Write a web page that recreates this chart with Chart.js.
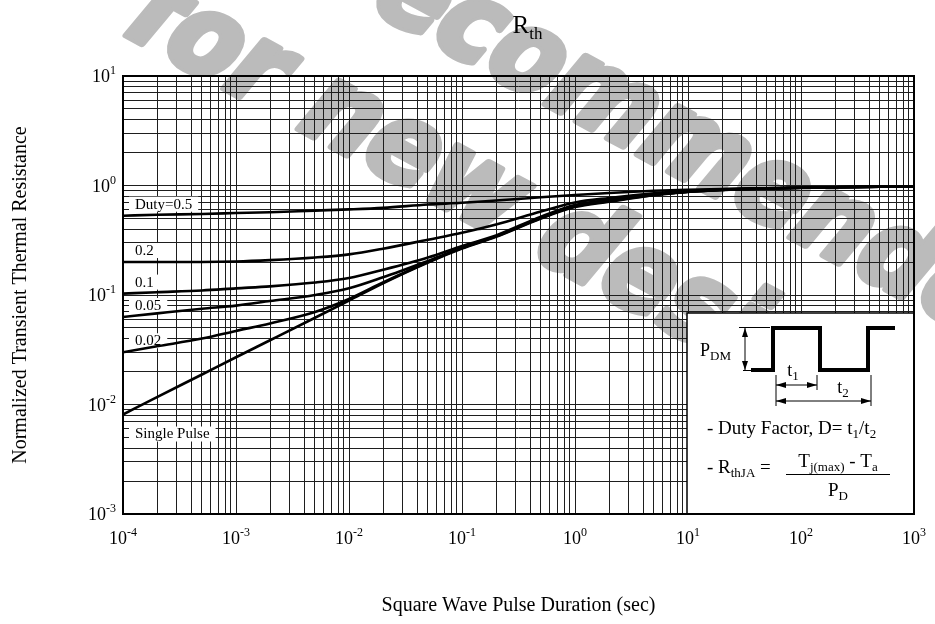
<!DOCTYPE html>
<html>
<head>
<meta charset="utf-8">
<script src="https://cdn.jsdelivr.net/npm/chart.js@4.4.1/dist/chart.umd.min.js"></script>
<style>
  html, body { margin: 0; padding: 0; background: #fff; }
  #wrap { width: 935px; height: 624px; position: relative; }
</style>
</head>
<body>
<div id="wrap"><canvas id="c" width="935" height="624"></canvas></div>
<script>
// Pulse durations (s) at which the curves are sampled
const pulseDuration = [1e-4, 2e-4, 5e-4, 1e-3, 2e-3, 5e-3, 1e-2, 2e-2, 5e-2, 0.1, 0.2, 0.5, 1, 2, 5, 10, 20, 50, 100, 200, 500, 1000];

// Normalized transient thermal resistance for each duty factor
const duty050 = [0.53, 0.54, 0.55, 0.56, 0.57, 0.59, 0.605, 0.625, 0.67, 0.695, 0.73, 0.78, 0.82, 0.855, 0.895, 0.915, 0.93, 0.945, 0.955, 0.965, 0.975, 0.98];
const duty020 = [0.2, 0.2, 0.2, 0.202, 0.208, 0.22, 0.235, 0.265, 0.32, 0.37, 0.44, 0.58, 0.70, 0.77, 0.85, 0.895, 0.925, 0.945, 0.955, 0.965, 0.975, 0.98];
const duty010 = [0.103, 0.106, 0.11, 0.115, 0.12, 0.13, 0.143, 0.17, 0.22, 0.28, 0.35, 0.52, 0.665, 0.74, 0.83, 0.88, 0.915, 0.94, 0.955, 0.965, 0.975, 0.98];
const duty005 = [0.063, 0.068, 0.075, 0.08, 0.088, 0.1, 0.115, 0.145, 0.205, 0.27, 0.345, 0.51, 0.655, 0.73, 0.825, 0.878, 0.913, 0.94, 0.955, 0.965, 0.975, 0.98];
const duty002 = [0.03, 0.034, 0.04, 0.047, 0.055, 0.07, 0.092, 0.13, 0.2, 0.268, 0.343, 0.505, 0.645, 0.72, 0.82, 0.876, 0.912, 0.94, 0.955, 0.965, 0.975, 0.98];
const singlePulse = [0.0081, 0.0117, 0.0188, 0.027, 0.0386, 0.062, 0.089, 0.128, 0.198, 0.265, 0.34, 0.50, 0.635, 0.71, 0.815, 0.875, 0.91, 0.94, 0.955, 0.965, 0.975, 0.98];

const curveLabels = ['Duty=0.5', '0.2', '0.1', '0.05', '0.02', 'Single Pulse'];
const curveSeries = [duty050, duty020, duty010, duty005, duty002, singlePulse];

// Decade exponents used for tick labels
const xDecades = [-4, -3, -2, -1, 0, 1, 2, 3];
const yDecades = [-3, -2, -1, 0, 1];

const SERIF = "'Liberation Serif', 'Times New Roman', serif";
const WM_FONT = "bold 112px 'DejaVu Sans Condensed', 'DejaVu Sans', sans-serif";

function logTicks(minExp, maxExp) {
  const t = [];
  for (let e = minExp; e < maxExp; e++) {
    for (let m = 1; m <= 9; m++) t.push({ value: m * Math.pow(10, e) });
  }
  t.push({ value: Math.pow(10, maxExp) });
  return t;
}

function richWidth(ctx, parts) {
  let w = 0;
  for (const p of parts) { ctx.font = p.font; w += ctx.measureText(p.t).width; }
  return w;
}
function drawRich(ctx, parts, x, y, align) {
  const w = richWidth(ctx, parts);
  let cx = align === 'center' ? x - w / 2 : (align === 'right' ? x - w : x);
  ctx.textAlign = 'left';
  ctx.textBaseline = 'alphabetic';
  for (const p of parts) {
    ctx.font = p.font;
    ctx.fillText(p.t, cx, y + (p.dy || 0));
    cx += ctx.measureText(p.t).width;
  }
  return w;
}
const f = (px) => px + 'px ' + SERIF;

// Background + diagonal watermark, painted under the grid
const backdrop = {
  id: 'backdrop',
  beforeDraw(chart) {
    const ctx = chart.ctx;
    ctx.save();
    ctx.fillStyle = '#fff';
    ctx.fillRect(0, 0, chart.width, chart.height);
    ctx.fillStyle = '#bbbbbb';
    ctx.strokeStyle = '#bbbbbb';
    ctx.lineWidth = 7;
    ctx.lineJoin = 'round';
    ctx.font = WM_FONT;
    ctx.textAlign = 'left';
    ctx.textBaseline = 'middle';
    const angle = 28.5 * Math.PI / 180;
    // each line is placed by the centre of one of its letters
    const lines = [
      { t: 'Not recommended', idx: 6, x: 470, y: 30 },
      { t: 'for new design', idx: 1, x: 205, y: 45 }
    ];
    for (const l of lines) {
      const off = ctx.measureText(l.t.slice(0, l.idx)).width + ctx.measureText(l.t[l.idx]).width / 2;
      ctx.save();
      ctx.translate(l.x, l.y);
      ctx.rotate(angle);
      ctx.transform(1, 0, -0.2, 1, 0, 0);
      ctx.strokeText(l.t, -off, 0);
      ctx.fillText(l.t, -off, 0);
      ctx.restore();
    }
    ctx.restore();
  }
};

// White patches behind the curve labels (under the curves, over the grid)
const labelPatches = {
  id: 'labelPatches',
  beforeDatasetsDraw(chart) {
    const ctx = chart.ctx;
    const area = chart.chartArea;
    const ys = chart.scales.y;
    ctx.save();
    curveSeries.forEach((s, i) => {
      const yCurve = ys.getPixelForValue(s[0]);
      const yc = i === 5 ? yCurve + 19 : yCurve - 12;
      const x0 = area.left + 12;
      ctx.font = f(15);
      const w = ctx.measureText(curveLabels[i]).width;
      ctx.fillStyle = '#fff';
      ctx.fillRect(x0 - 6, yc - 7, w + 12, 15);
      ctx.fillStyle = '#000';
      ctx.textAlign = 'left';
      ctx.textBaseline = 'middle';
      ctx.fillText(curveLabels[i], x0, yc + 1);
    });
    ctx.restore();
  }
};

// Frame, axis text and the duty-factor inset
const annotations = {
  id: 'annotations',
  afterDraw(chart) {
    const ctx = chart.ctx;
    const area = chart.chartArea;
    const xs = chart.scales.x, ys = chart.scales.y;
    ctx.save();

    // inset box
    const bx = area.right - 227, by = area.top + 237, bw = 227, bh = area.bottom - by;
    ctx.fillStyle = '#fff';
    ctx.fillRect(bx, by, bw, bh);
    ctx.strokeStyle = '#000';
    ctx.lineWidth = 1.5;
    ctx.strokeRect(bx, by, bw, bh);

    // square wave
    const hi = by + 15, lo = by + 57;
    const e1 = bx + 86, e2 = bx + 133, e3 = bx + 181;
    ctx.lineWidth = 4;
    ctx.lineJoin = 'miter';
    ctx.beginPath();
    ctx.moveTo(bx + 64, lo);
    ctx.lineTo(e1, lo); ctx.lineTo(e1, hi); ctx.lineTo(e2, hi); ctx.lineTo(e2, lo);
    ctx.lineTo(e3, lo); ctx.lineTo(e3, hi); ctx.lineTo(bx + 208, hi);
    ctx.stroke();

    // P_DM dimension
    ctx.lineWidth = 1;
    const ax = bx + 58;
    ctx.beginPath();
    ctx.moveTo(bx + 52, hi - 0.5); ctx.lineTo(bx + 83, hi - 0.5);
    ctx.moveTo(bx + 56, lo + 0.5); ctx.lineTo(bx + 64, lo + 0.5);
    ctx.moveTo(ax, hi); ctx.lineTo(ax, lo);
    ctx.stroke();
    const arrowV = (x, y, dir) => {
      ctx.beginPath(); ctx.moveTo(x, y); ctx.lineTo(x - 3, y + dir * 9); ctx.lineTo(x + 3, y + dir * 9); ctx.closePath(); ctx.fill();
    };
    const arrowH = (x, y, dir) => {
      ctx.beginPath(); ctx.moveTo(x, y); ctx.lineTo(x + dir * 10, y - 3); ctx.lineTo(x + dir * 10, y + 3); ctx.closePath(); ctx.fill();
    };
    ctx.fillStyle = '#000';
    arrowV(ax, hi, 1); arrowV(ax, lo, -1);

    // t1 / t2 dimensions
    const t1y = by + 72, t2y = by + 88;
    const xa = e1 + 3, xb = e2 - 3, xc = e3 + 3;
    ctx.beginPath();
    ctx.moveTo(xa, lo + 5); ctx.lineTo(xa, t2y + 5);
    ctx.moveTo(xb, lo + 5); ctx.lineTo(xb, t1y + 5);
    ctx.moveTo(xc, lo + 5); ctx.lineTo(xc, t2y + 5);
    ctx.moveTo(xa, t1y); ctx.lineTo(xb, t1y);
    ctx.moveTo(xa, t2y); ctx.lineTo(xc, t2y);
    ctx.stroke();
    arrowH(xa, t1y, 1); arrowH(xb, t1y, -1);
    arrowH(xa, t2y, 1); arrowH(xc, t2y, -1);

    ctx.fillStyle = '#000';
    drawRich(ctx, [{ t: 'P', font: f(18) }, { t: 'DM', font: f(13), dy: 4 }], bx + 13, by + 43, 'left');
    drawRich(ctx, [{ t: 't', font: f(18) }, { t: '1', font: f(13), dy: 4 }], bx + 106, by + 63, 'center');
    drawRich(ctx, [{ t: 't', font: f(18) }, { t: '2', font: f(13), dy: 4 }], bx + 156, by + 80, 'center');

    drawRich(ctx, [
      { t: '- Duty Factor, D= t', font: f(19) }, { t: '1', font: f(13), dy: 4 },
      { t: '/t', font: f(19) }, { t: '2', font: f(13), dy: 4 }
    ], bx + 20, by + 121, 'left');

    drawRich(ctx, [{ t: '- R', font: f(19) }, { t: 'thJA', font: f(13), dy: 4 }, { t: ' =', font: f(19) }], bx + 20, by + 160, 'left');
    const fx0 = bx + 99, fx1 = bx + 203, fcx = (fx0 + fx1) / 2, fy = by + 161;
    ctx.lineWidth = 1;
    ctx.beginPath(); ctx.moveTo(fx0, fy + 0.5); ctx.lineTo(fx1, fy + 0.5); ctx.stroke();
    drawRich(ctx, [
      { t: 'T', font: f(19) }, { t: 'j(max)', font: f(13), dy: 4 },
      { t: ' - T', font: f(19) }, { t: 'a', font: f(13), dy: 4 }
    ], fcx, fy - 7, 'center');
    drawRich(ctx, [{ t: 'P', font: f(19) }, { t: 'D', font: f(13), dy: 4 }], fcx, fy + 22, 'center');

    // plot frame
    ctx.strokeStyle = '#000';
    ctx.lineWidth = 2;
    ctx.strokeRect(area.left, area.top, area.right - area.left, area.bottom - area.top);

    // tick labels as powers of ten
    ctx.fillStyle = '#000';
    xDecades.forEach(e => {
      const px = xs.getPixelForValue(Math.pow(10, e));
      drawRich(ctx, [{ t: '10', font: f(18) }, { t: String(e), font: f(12), dy: -8 }], px, area.bottom + 30, 'center');
    });
    yDecades.forEach(e => {
      const py = ys.getPixelForValue(Math.pow(10, e));
      drawRich(ctx, [{ t: '10', font: f(18) }, { t: String(e), font: f(12), dy: -8 }], area.left - 7, py + 6, 'right');
    });

    // axis titles
    ctx.font = f(20);
    ctx.textAlign = 'center';
    ctx.textBaseline = 'middle';
    ctx.fillText('Square Wave Pulse Duration (sec)', (area.left + area.right) / 2, area.bottom + 92);
    ctx.save();
    ctx.translate(21, (area.top + area.bottom) / 2);
    ctx.rotate(-Math.PI / 2);
    ctx.fillText('Normalized Transient Thermal Resistance', 0, 0);
    ctx.restore();

    // chart title R_th
    drawRich(ctx, [{ t: 'R', font: f(25) }, { t: 'th', font: f(17), dy: 6 }], (area.left + area.right) / 2 + 9, 33, 'center');

    ctx.restore();
  }
};

const datasets = curveSeries.map((s, i) => ({
  label: curveLabels[i],
  data: pulseDuration.map((t, k) => ({ x: t, y: s[k] })),
  borderColor: '#000',
  borderWidth: 2.6,
  pointRadius: 0,
  fill: false,
  cubicInterpolationMode: 'monotone'
}));

new Chart(document.getElementById('c'), {
  type: 'line',
  data: { datasets },
  options: {
    responsive: false,
    animation: false,
    devicePixelRatio: 1,
    layout: { padding: { left: 123, right: 21, top: 76, bottom: 110 } },
    plugins: { legend: { display: false }, tooltip: { enabled: false }, title: { display: false } },
    scales: {
      x: {
        type: 'logarithmic', min: 1e-4, max: 1e3,
        afterBuildTicks: (sc) => { sc.ticks = logTicks(-4, 3); },
        ticks: { display: false },
        grid: { color: '#1e1e1e', lineWidth: 1, drawTicks: false },
        border: { display: false }
      },
      y: {
        type: 'logarithmic', min: 1e-3, max: 10,
        afterBuildTicks: (sc) => { sc.ticks = logTicks(-3, 1); },
        ticks: { display: false },
        grid: { color: '#1e1e1e', lineWidth: 1, drawTicks: false },
        border: { display: false }
      }
    }
  },
  plugins: [backdrop, labelPatches, annotations]
});
</script>
</body>
</html>
